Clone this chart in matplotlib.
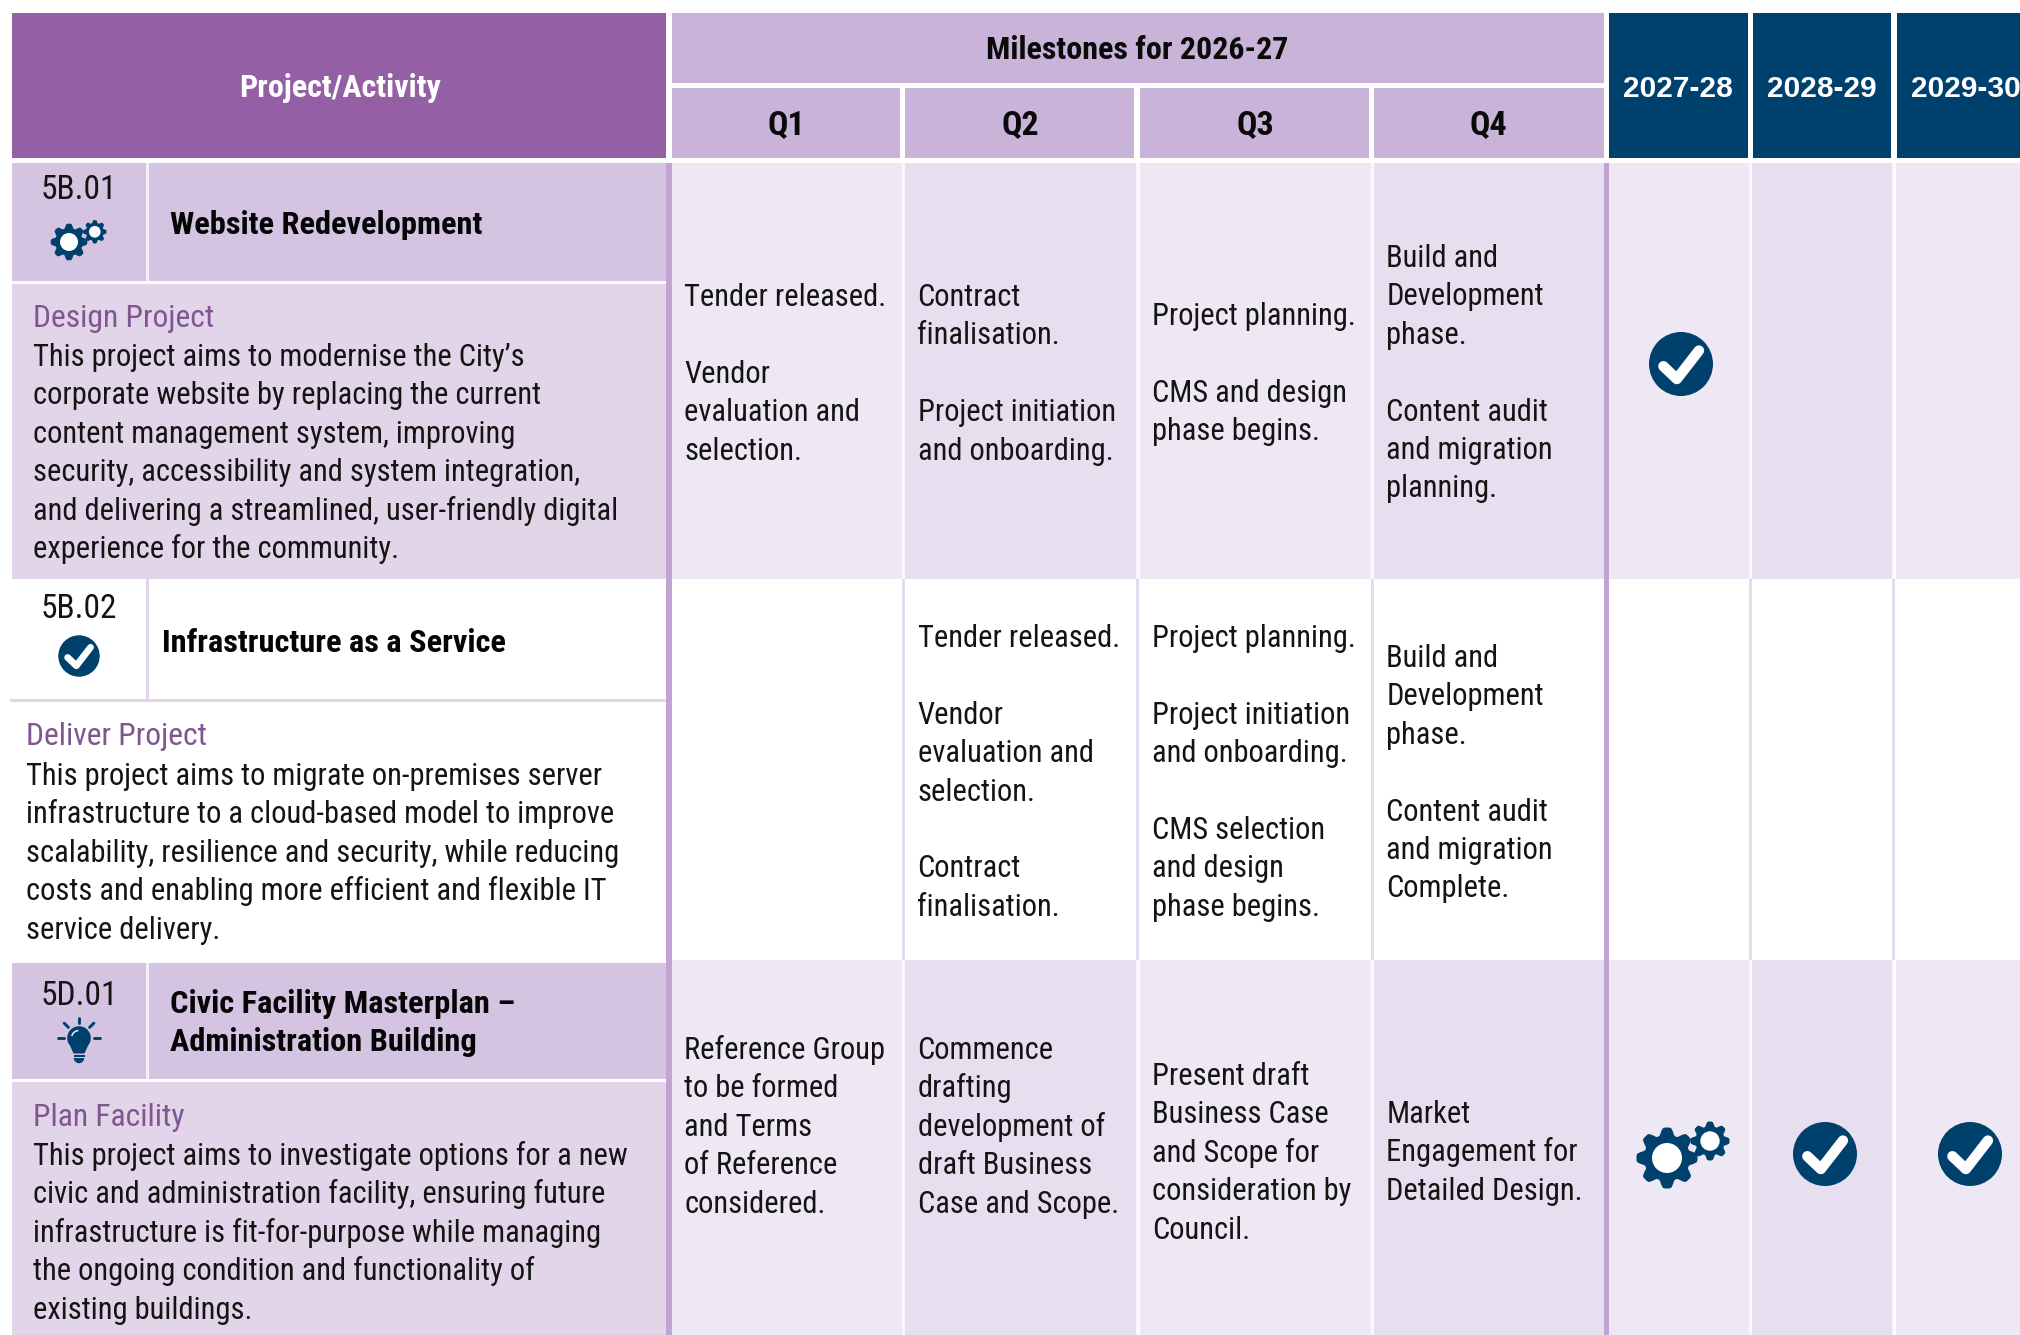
import numpy as np
import matplotlib
matplotlib.use("Agg")
import matplotlib.pyplot as plt
from matplotlib.patches import Rectangle, Circle, Polygon, Wedge, Arc

FONTS = ['Roboto Condensed', 'Lato', 'DejaVu Sans']
plt.rcParams['font.family'] = FONTS

W, H = 2020, 1335
NAVY = '#00406C'
BODY_FS = 22.0
PITCH = 38.4

project_header = 'Project/Activity'
milestone_header = 'Milestones for 2026-27'
quarters = ['Q1', 'Q2', 'Q3', 'Q4']
years = ['2027-28', '2028-29', '2029-30']

ids = ['5B.01', '5B.02', '5D.01']
titles = [['Website Redevelopment'], ['Infrastructure as a Service'],
          ['Civic Facility Masterplan –', 'Administration Building']]
phases = ['Design Project', 'Deliver Project', 'Plan Facility']
descriptions = [
    ['This project aims to modernise the City’s', 'corporate website by replacing the current',
     'content management system, improving', 'security, accessibility and system integration,',
     'and delivering a streamlined, user-friendly digital', 'experience for the community.'],
    ['This project aims to migrate on-premises server', 'infrastructure to a cloud-based model to improve',
     'scalability, resilience and security, while reducing', 'costs and enabling more efficient and flexible IT',
     'service delivery.'],
    ['This project aims to investigate options for a new', 'civic and administration facility, ensuring future',
     'infrastructure is fit-for-purpose while managing', 'the ongoing condition and functionality of',
     'existing buildings.'],
]
milestones = [
    [['Tender released.', '', 'Vendor', 'evaluation and', 'selection.'],
     ['Contract', 'finalisation.', '', 'Project initiation', 'and onboarding.'],
     ['Project planning.', '', 'CMS and design', 'phase begins.'],
     ['Build and', 'Development', 'phase.', '', 'Content audit', 'and migration', 'planning.']],
    [[],
     ['Tender released.', '', 'Vendor', 'evaluation and', 'selection.', '', 'Contract', 'finalisation.'],
     ['Project planning.', '', 'Project initiation', 'and onboarding.', '', 'CMS selection', 'and design', 'phase begins.'],
     ['Build and', 'Development', 'phase.', '', 'Content audit', 'and migration', 'Complete.']],
    [['Reference Group', 'to be formed', 'and Terms', 'of Reference', 'considered.'],
     ['Commence', 'drafting', 'development of', 'draft Business', 'Case and Scope.'],
     ['Present draft', 'Business Case', 'and Scope for', 'consideration by', 'Council.'],
     ['Market', 'Engagement for', 'Detailed Design.']],
]
first_line_y = [[295, 295, 314, 256], [0, 636, 636, 656], [1048, 1048, 1074, 1112]]

# layout (pixels)
left_x = [12, 147, 666]
quarter_edges = [(672, 903), (905, 1137), (1140, 1372), (1374, 1604)]
year_edges = [(1609, 1750), (1752, 1893), (1896, 2020)]
header_years = [(1609, 1748), (1753, 1891), (1897, 2020)]
row_edges = [(163, 579), (579, 963), (963, 1335)]
cell_row_edges = [(163, 579), (579, 960), (960, 1335)]
band_bottom = [281, 699, 1079]
desc_top = [284, 702, 1082]
id_y = [188, 607, 994]
title_y = [223, 641, 1002]
title_x = [170, 162, 170]
phase_x = [33, 26, 33]
phase_y = [316, 734, 1115]
desc_y = [355, 774, 1154]
BASE = 11

fig = plt.figure(figsize=(W / 100, H / 100), dpi=100, facecolor='white')
ax = fig.add_axes([0, 0, 1, 1])
ax.set_xlim(0, W)
ax.set_ylim(H, 0)
ax.axis('off')


def rect(x0, y0, x1, y1, color, z=1):
    ax.add_patch(Rectangle((x0, y0), x1 - x0, y1 - y0, fc=color, ec='none', lw=0, zorder=z))


def label(x, y, s, size=BODY_FS, color='#141414', weight='normal', ha='left', family=None):
    ax.text(x, y + BASE, s, fontsize=size, color=color, fontweight=weight, ha=ha, va='baseline',
            zorder=5, family=family or FONTS)


def gear(cx, cy, R, hole, teeth, rot=0.0):
    n = teeth * 16
    t = np.linspace(0, 2 * np.pi, n, endpoint=False)
    phase = (t * teeth / (2 * np.pi) + rot) % 1
    prof = np.clip(1.7 - 4.2 * np.abs(phase - 0.5), 0, 1)
    r = R * (0.76 + 0.24 * prof)
    ax.add_patch(Polygon(np.c_[cx + r * np.cos(t), cy + r * np.sin(t)], fc=NAVY, ec='none', zorder=4))
    ax.add_patch(Circle((cx, cy), hole, fc='white', ec='none', zorder=4.5))


def gears(cx, cy, s):
    gear(cx, cy, 30.5 * s, 15 * s, 8, 0.5)
    gear(cx + 43 * s, cy - 17 * s, 19.5 * s, 9.7 * s, 8, 0.5)


def check(cx, cy, r):
    ax.add_patch(Circle((cx, cy), r, fc=NAVY, ec='none', zorder=4))
    ax.plot([cx - 0.55 * r, cx - 0.13 * r, cx + 0.56 * r], [cy + 0.07 * r, cy + 0.47 * r, cy - 0.42 * r],
            color='white', lw=r * 0.235, solid_capstyle='round', solid_joinstyle='round', zorder=5)


def bulb(cx, cy):
    pts = [(cx + 11.8 * np.cos(v), cy + 11.8 * np.sin(v)) for v in np.linspace(np.deg2rad(-220), np.deg2rad(40), 40)]
    pts += [(cx + 5.5, cy + 15.5), (cx - 5.5, cy + 15.5)]
    ax.add_patch(Polygon(pts, fc=NAVY, ec='none', zorder=4))
    rect(cx - 5.5, cy + 17, cx + 5.5, cy + 19, NAVY, 4)
    ax.add_patch(Wedge((cx, cy + 20), 5.2, 0, 180, fc=NAVY, ec='none', zorder=4))
    ax.add_patch(Arc((cx, cy), 15, 15, angle=0, theta1=195, theta2=265, color='white', lw=1.0, zorder=5))
    for deg, r0, r1 in [(180, 15, 21), (225, 15, 21), (270, 15, 20), (315, 15, 21), (0, 15, 21)]:
        v = np.deg2rad(deg)
        ax.plot([cx + r0 * np.cos(v), cx + r1 * np.cos(v)], [cy + r0 * np.sin(v), cy + r1 * np.sin(v)],
                color=NAVY, lw=2.1, solid_capstyle='round', zorder=4)


# headers
rect(left_x[0], 13, left_x[2], 158, '#955FA5')
label((left_x[0] + left_x[2]) / 2 + 1, 86, project_header, size=23, color='white', weight='bold', ha='center')
rect(quarter_edges[0][0], 13, quarter_edges[-1][1], 83, '#C9B3D8')
label((quarter_edges[0][0] + quarter_edges[-1][1]) / 2 - 1, 48, milestone_header, size=23, color='#0A0A0A', weight='bold', ha='center')
for (x0, x1), q in zip(quarter_edges, quarters):
    rect(x0, 88, x1 - (3 if x1 != 1604 else 0), 158, '#C9B3D8')
    label((x0 + x1) / 2 - 1, 123, q, size=24.5, color='#0A0A0A', weight='bold', ha='center')
for (x0, x1), y in zip(header_years, years):
    rect(x0, 13, x1, 158, NAVY)
    label(x0 + 68.5, 86, y, size=21.5, color='white', weight='bold', ha='center',
          family=['Liberation Sans', 'DejaVu Sans'])

# body rows
for r, (y0, y1) in enumerate(row_edges):
    shaded = r != 1
    if shaded:
        rect(left_x[0], y0, left_x[2], band_bottom[r], '#D5C4E1')
        rect(left_x[0], desc_top[r], left_x[2], y1, '#E2D5EA')
        rect(left_x[1] - 1, y0, left_x[1] + 2, band_bottom[r], '#F3EEF7', 2)
    else:
        rect(10, band_bottom[r], left_x[2], desc_top[r], '#E2D5EA')
        rect(left_x[1] - 1, y0, left_x[1] + 2, band_bottom[r], '#E2D5EA', 2)
    cy0, cy1 = cell_row_edges[r]
    for c, (x0, x1) in enumerate(quarter_edges + year_edges):
        if shaded:
            rect(x0, cy0, x1, cy1, '#EEE8F5' if c % 2 == 0 else '#E7DFEF')
        if x1 not in (1604, 2020):
            rect(x1 - 1, cy0, x1 + 2, cy1, '#FAF8FC' if shaded else '#E4DAED', 2)
    label(79, id_y[r], ids[r], size=24, ha='center')
    ty = title_y[r]
    for line in titles[r]:
        label(title_x[r], ty, line, size=23.3, color='#050505', weight='bold')
        ty += PITCH
    label(phase_x[r], phase_y[r], phases[r], size=22.8, color='#7F5690')
    for i, line in enumerate(descriptions[r]):
        label(phase_x[r], desc_y[r] + i * PITCH, line)
    for c, lines in enumerate(milestones[r]):
        for i, line in enumerate(lines):
            if line:
                label(quarter_edges[c][0] + 12 + (c > 0) * 0.5, first_line_y[r][c] + i * PITCH, line)

# thick dividers
rect(666, 163, 672, H, '#C1A4D1', 3)
rect(1604, 163, 1609, H, '#C1A4D1', 3)

# status icons
gears(69, 242, 0.60)
check(79, 656, 20.7)
bulb(79, 1038)
check(1681, 364, 32)
gears(1667, 1158, 1.0)
check(1825, 1154, 32)
check(1970, 1154, 32)

fig.savefig('out.png', dpi=100, facecolor='white')
